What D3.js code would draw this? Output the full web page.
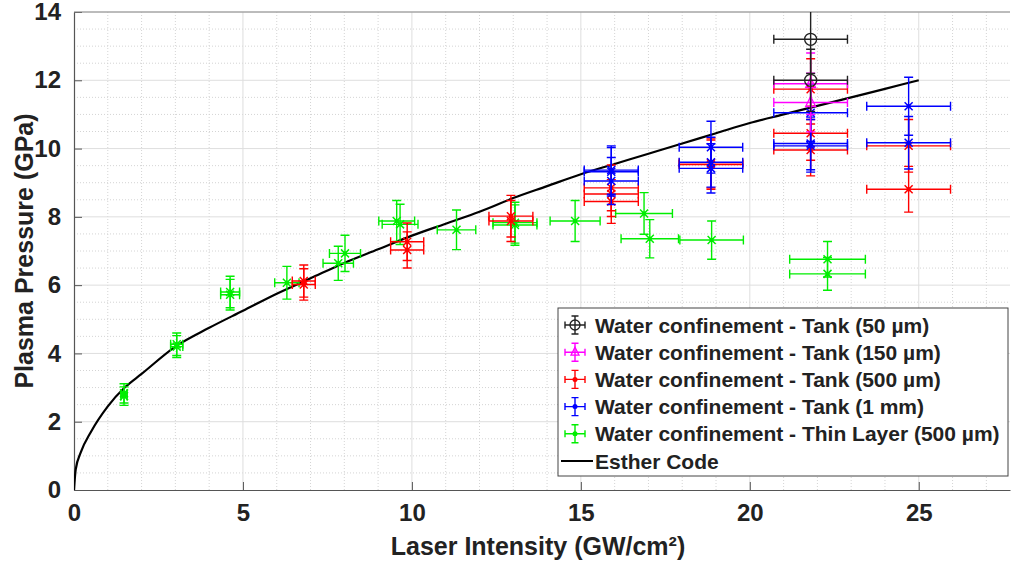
<!DOCTYPE html>
<html>
<head>
<meta charset="utf-8">
<script src="https://cdn.jsdelivr.net/npm/d3@7"></script>
<style>
  body { margin: 0; background: #fff; }
  text { font-family: "Liberation Sans", Arial, sans-serif; font-weight: bold; fill: #222; }
</style>
</head>
<body>
<svg width="1013" height="567"></svg>
<script>
// ---- data ----
var xTicks = [0, 5, 10, 15, 20, 25];
var yTicks = [0, 2, 4, 6, 8, 10, 12, 14];

// Tank 50 um
var tank50X = [21.8, 21.8];
var tank50Y = [13.2, 12.0];
var tank50XErr = [1.09, 1.09];
var tank50YErr = [1.0, 0.91];

// Tank 150 um
var tank150X = [21.8, 21.8];
var tank150Y = [11.9, 11.35];
var tank150XErr = [1.09, 1.09];
var tank150YErr = [0.9, 0.86];

// Tank 500 um
var tank500X = [6.8, 6.8, 9.86, 9.86, 12.93, 12.93, 15.9, 15.9, 15.9, 18.85, 18.85, 21.8, 21.8, 21.8, 24.7, 24.7];
var tank500Y = [6.12, 6.02, 7.27, 7.03, 8.02, 7.88, 8.85, 8.67, 8.45, 9.58, 9.53, 11.74, 10.45, 9.96, 10.08, 8.81];
var tank500XErr = [0.34, 0.34, 0.49, 0.49, 0.65, 0.65, 0.8, 0.8, 0.8, 0.94, 0.94, 1.09, 1.09, 1.09, 1.24, 1.24];
var tank500YErr = [0.47, 0.46, 0.55, 0.53, 0.61, 0.6, 0.67, 0.66, 0.64, 0.73, 0.72, 0.89, 0.79, 0.76, 0.77, 0.67];

// Tank 1 mm
var tank1mmX = [15.9, 15.9, 15.9, 18.85, 18.85, 18.85, 21.8, 21.8, 21.8, 24.7, 24.7];
var tank1mmY = [9.37, 9.32, 9.05, 10.04, 9.6, 9.42, 11.05, 10.15, 10.08, 11.24, 10.17];
var tank1mmXErr = [0.8, 0.8, 0.8, 0.94, 0.94, 0.94, 1.09, 1.09, 1.09, 1.24, 1.24];
var tank1mmYErr = [0.71, 0.71, 0.69, 0.76, 0.73, 0.72, 0.84, 0.77, 0.77, 0.85, 0.77];

// Thin layer 500 um
var thinX = [1.48, 1.48, 3.04, 3.04, 4.62, 4.62, 6.3, 7.82, 8.02, 9.55, 9.65, 11.32, 13.05, 13.05, 14.83, 16.87, 17.04, 18.87, 22.3, 22.3];
var thinY = [2.83, 2.75, 4.27, 4.2, 5.8, 5.72, 6.07, 6.64, 6.93, 7.88, 7.78, 7.62, 7.83, 7.76, 7.88, 8.1, 7.36, 7.32, 6.76, 6.33];
var thinXErr = [0.09, 0.09, 0.18, 0.18, 0.28, 0.28, 0.36, 0.45, 0.46, 0.53, 0.53, 0.57, 0.65, 0.65, 0.74, 0.84, 0.85, 0.94, 1.12, 1.12];
var thinYErr = [0.28, 0.27, 0.33, 0.32, 0.46, 0.45, 0.48, 0.5, 0.53, 0.6, 0.59, 0.58, 0.6, 0.59, 0.6, 0.61, 0.56, 0.56, 0.52, 0.48];

// Esther code simulation curve
var estherX = [0, 0.05, 0.2, 0.5, 1, 1.5, 2, 3, 4, 5, 6, 7, 8, 9, 10, 11, 12, 13, 14, 15, 16, 17, 18, 19, 20, 21, 22, 23, 24, 25];
var estherY = [0, 0.6, 1.1, 1.7, 2.45, 3.0, 3.4, 4.2, 4.75, 5.25, 5.75, 6.2, 6.65, 7.05, 7.45, 7.8, 8.15, 8.55, 8.9, 9.25, 9.55, 9.85, 10.15, 10.45, 10.75, 11.0, 11.25, 11.5, 11.75, 12.0];

var series = [
  { name: "Water confinement - Tank (50 \u00b5m)", color: "#222222", marker: "circle", x: tank50X, y: tank50Y, xe: tank50XErr, ye: tank50YErr },
  { name: "Water confinement - Tank (150 \u00b5m)", color: "#ff00ff", marker: "triangle", x: tank150X, y: tank150Y, xe: tank150XErr, ye: tank150YErr },
  { name: "Water confinement - Tank (500 \u00b5m)", color: "#ff0000", marker: "cross", x: tank500X, y: tank500Y, xe: tank500XErr, ye: tank500YErr },
  { name: "Water confinement - Tank (1 mm)", color: "#0000ff", marker: "cross", x: tank1mmX, y: tank1mmY, xe: tank1mmXErr, ye: tank1mmYErr },
  { name: "Water confinement - Thin Layer (500 \u00b5m)", color: "#00ee00", marker: "cross", x: thinX, y: thinY, xe: thinXErr, ye: thinYErr }
];

// ---- layout ----
var svg = d3.select("svg");
var pLeft = 74, pRight = 1010, pTop = 12, pBottom = 490;

var x = d3.scaleLinear().domain([0, 27.7]).range([pLeft, pRight]);
var y = d3.scaleLinear().domain([0, 14]).range([pBottom, pTop]);

svg.append("clipPath").attr("id", "clip")
  .append("rect").attr("x", pLeft).attr("y", pTop).attr("width", pRight - pLeft).attr("height", pBottom - pTop);

// minor grid
var grid = svg.append("g");
grid.selectAll(".mx").data(d3.range(1, 28).filter(function (d) { return d % 5 !== 0; }))
  .enter().append("line")
  .attr("x1", function (d) { return x(d); }).attr("x2", function (d) { return x(d); })
  .attr("y1", pTop).attr("y2", pBottom)
  .attr("stroke", "#d4d4d4").attr("stroke-width", 1).attr("stroke-dasharray", "1,2");
grid.selectAll(".my").data(d3.range(0.5, 14, 0.5).filter(function (d) { return d % 2 !== 0; }))
  .enter().append("line")
  .attr("x1", pLeft).attr("x2", pRight)
  .attr("y1", function (d) { return y(d); }).attr("y2", function (d) { return y(d); })
  .attr("stroke", "#d4d4d4").attr("stroke-width", 1).attr("stroke-dasharray", "1,2");
// major grid
grid.selectAll(".Mx").data(xTicks.slice(1))
  .enter().append("line")
  .attr("x1", function (d) { return x(d); }).attr("x2", function (d) { return x(d); })
  .attr("y1", pTop).attr("y2", pBottom)
  .attr("stroke", "#dedede").attr("stroke-width", 1);
grid.selectAll(".My").data(yTicks.slice(1))
  .enter().append("line")
  .attr("x1", pLeft).attr("x2", pRight)
  .attr("y1", function (d) { return y(d); }).attr("y2", function (d) { return y(d); })
  .attr("stroke", "#dedede").attr("stroke-width", 1);

// axes
var xAxis = svg.append("g").attr("transform", "translate(0," + pBottom + ")")
  .call(d3.axisBottom(x).tickValues(xTicks).tickSizeInner(-8).tickSizeOuter(0).tickPadding(14));
var yAxis = svg.append("g").attr("transform", "translate(" + pLeft + ",0)")
  .call(d3.axisLeft(y).tickValues(yTicks).tickSizeInner(-8).tickSizeOuter(0).tickPadding(13));
[xAxis, yAxis].forEach(function (a) {
  a.select(".domain").attr("stroke", "#555").attr("stroke-width", 1.2);
  a.selectAll(".tick line").attr("stroke", "#555");
  a.selectAll("text").style("font-size", "24px").style("font-weight", "bold")
    .style("font-family", "'Liberation Sans', Arial, sans-serif").attr("fill", "#222");
});
// top border
svg.append("line").attr("x1", pLeft).attr("x2", pRight).attr("y1", pTop).attr("y2", pTop)
  .attr("stroke", "#888").attr("stroke-width", 1);

// axis titles
svg.append("text").attr("x", 538).attr("y", 555)
  .attr("text-anchor", "middle").style("font-size", "25px").text("Laser Intensity (GW/cm\u00b2)");
svg.append("text").attr("transform", "translate(33," + ((pTop + pBottom) / 2) + ") rotate(-90)")
  .attr("text-anchor", "middle").style("font-size", "25px").text("Plasma Pressure (GPa)");

var plot = svg.append("g").attr("clip-path", "url(#clip)");

// Esther code curve
plot.append("path")
  .datum(d3.zip(estherX, estherY))
  .attr("fill", "none").attr("stroke", "#000").attr("stroke-width", 2.2)
  .attr("d", d3.line().x(function (d) { return x(d[0]); }).y(function (d) { return y(d[1]); }).curve(d3.curveMonotoneX));

function drawMarker(g, type, cx, cy, color, size) {
  if (type === "circle") {
    g.append("circle").attr("cx", cx).attr("cy", cy).attr("r", size + 1)
      .attr("fill", "none").attr("stroke", color).attr("stroke-width", 1.3);
  } else if (type === "triangle") {
    g.append("path").attr("d", "M" + cx + "," + (cy - size - 1) + "L" + (cx + size) + "," + (cy + size - 1) + "L" + (cx - size) + "," + (cy + size - 1) + "Z")
      .attr("fill", "none").attr("stroke", color).attr("stroke-width", 1.3);
  } else if (type === "cross") {
    var s = size - 1;
    g.append("path").attr("d", "M" + (cx - s) + "," + (cy - s) + "L" + (cx + s) + "," + (cy + s) + "M" + (cx - s) + "," + (cy + s) + "L" + (cx + s) + "," + (cy - s))
      .attr("stroke", color).attr("stroke-width", 1.5);
    g.append("circle").attr("cx", cx).attr("cy", cy).attr("r", 2.2).attr("fill", color);
  } else {
    g.append("circle").attr("cx", cx).attr("cy", cy).attr("r", 2.5).attr("fill", color);
  }
}

function drawErrorBar(g, cx, cy, x0, x1, y0, y1, color, cap) {
  var p = "M" + x0 + "," + cy + "L" + x1 + "," + cy +
    "M" + x0 + "," + (cy - cap) + "L" + x0 + "," + (cy + cap) +
    "M" + x1 + "," + (cy - cap) + "L" + x1 + "," + (cy + cap) +
    "M" + cx + "," + y0 + "L" + cx + "," + y1 +
    "M" + (cx - cap) + "," + y0 + "L" + (cx + cap) + "," + y0 +
    "M" + (cx - cap) + "," + y1 + "L" + (cx + cap) + "," + y1;
  g.append("path").attr("d", p).attr("fill", "none").attr("stroke", color).attr("stroke-width", 1.4);
}

// data with error bars; thin layer drawn first
var order = [4, 2, 3, 1, 0];
order.forEach(function (si) {
  var s = series[si];
  var g = plot.append("g");
  s.x.forEach(function (xv, i) {
    var yv = s.y[i];
    drawErrorBar(g, x(xv), y(yv), x(xv - s.xe[i]), x(xv + s.xe[i]), y(yv - s.ye[i]), y(yv + s.ye[i]), s.color, 4.5);
    drawMarker(g, s.marker, x(xv), y(yv), s.color, 5);
  });
});

// legend
var lg = svg.append("g").attr("transform", "translate(558,308)");
lg.append("rect").attr("width", 450).attr("height", 168)
  .attr("fill", "#fff").attr("stroke", "#444").attr("stroke-width", 1);
series.forEach(function (s, i) {
  var cy = 17 + i * 27.2;
  var row = lg.append("g");
  drawErrorBar(row, 17, cy, 7, 27, cy + 9, cy - 9, s.color, 3.5);
  drawMarker(row, s.marker === "cross" ? "dot" : s.marker, 17, cy, s.color, 4);
  row.append("text").attr("x", 37).attr("y", cy + 7.5).style("font-size", "21px").text(s.name);
});
var ey = 17 + 5 * 27.2;
lg.append("line").attr("x1", 3).attr("x2", 35).attr("y1", ey).attr("y2", ey).attr("stroke", "#000").attr("stroke-width", 2);
lg.append("text").attr("x", 37).attr("y", ey + 7.5).style("font-size", "21px").text("Esther Code");
</script>
</body>
</html>
